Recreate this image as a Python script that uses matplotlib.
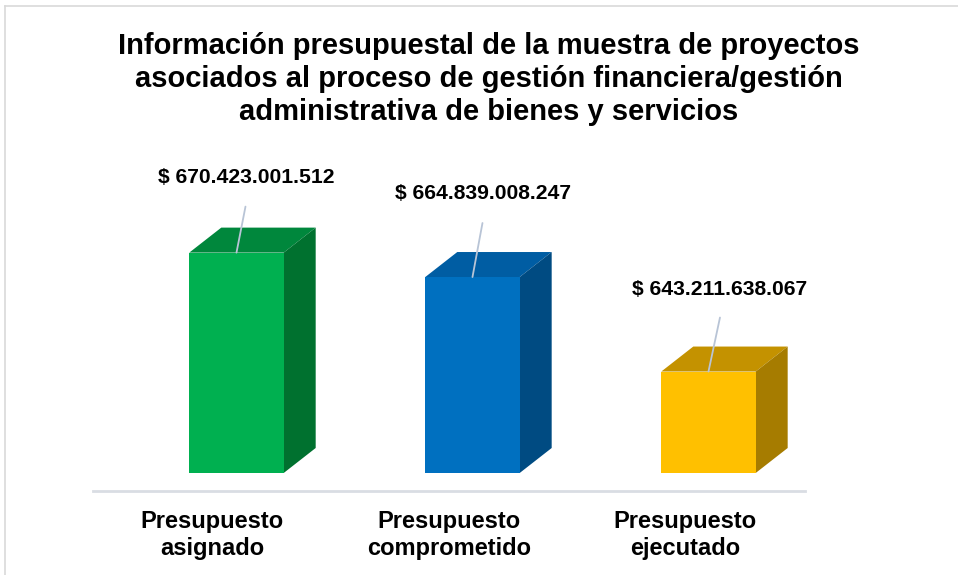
import matplotlib
matplotlib.use("Agg")
import matplotlib.pyplot as plt
from matplotlib.patches import Polygon
from matplotlib.lines import Line2D

# ---- data ----
categories = ["Presupuesto\nasignado", "Presupuesto\ncomprometido", "Presupuesto\nejecutado"]
values = [670423001512, 664839008247, 643211638067]
axis_min = 620e9
axis_max = 693.9e9
title = ("Información presupuestal de la muestra de proyectos\n"
         "asociados al proceso de gestión financiera/gestión\n"
         "administrativa de bienes y servicios")

# ---- styles ----
front_colors = ["#00B050", "#0070C0", "#FFC000"]
top_colors = ["#00873C", "#005DA3", "#C49200"]
side_colors = ["#00712F", "#004B82", "#A67C00"]
label_offsets = [(9.5, 75), (11, 84), (11.5, 82.5)]   # pixels (text centre)
line_ends = [(9, 46), (10, 54), (11.5, 54)]            # pixels (leader line top)
depth_px = (32, 25)

plt.rcParams['font.family'] = ['Liberation Sans', 'DejaVu Sans']

W, H = 958, 575
fig = plt.figure(figsize=(W / 100, H / 100), dpi=100)
fig.patch.set_facecolor("white")

# frame lines
fig.add_artist(Line2D([5 / W, 5 / W], [0, 1 - 6 / H], transform=fig.transFigure, color="#D9D9D9", lw=1.2))
fig.add_artist(Line2D([5 / W, 1], [1 - 6 / H, 1 - 6 / H], transform=fig.transFigure, color="#D9D9D9", lw=1.2))

ax_left, ax_right = 93, 805
ax_top, ax_bottom = 150, 473
ax = fig.add_axes([ax_left / W, 1 - ax_bottom / H, (ax_right - ax_left) / W, (ax_bottom - ax_top) / H])
ax.set_xlim(-0.608, 2.409)
ax.set_ylim(axis_min, axis_max)
ax.axis("off")

x = list(range(len(values)))
bar_w = 0.40
heights = [v - axis_min for v in values]
bars = ax.bar(x, heights, bottom=axis_min, width=bar_w, color=front_colors, zorder=3, linewidth=0)

fig.canvas.draw()
inv = ax.transData.inverted()
p0 = inv.transform((0, 0))
p1 = inv.transform(depth_px)
ddx, ddy = p1[0] - p0[0], p1[1] - p0[1]

for i, v in enumerate(values):
    xl, xr = x[i] - bar_w / 2, x[i] + bar_w / 2
    top = Polygon([(xl, v), (xr, v), (xr + ddx, v + ddy), (xl + ddx, v + ddy)],
                  closed=True, facecolor=top_colors[i], edgecolor="none", zorder=2)
    side = Polygon([(xr, axis_min), (xr + ddx, axis_min + ddy), (xr + ddx, v + ddy), (xr, v)],
                   closed=True, facecolor=side_colors[i], edgecolor="none", zorder=2)
    ax.add_patch(top)
    ax.add_patch(side)
    ax.annotate("", xy=(x[i], v), xytext=line_ends[i], textcoords="offset pixels",
                arrowprops=dict(arrowstyle="-", color="#B8C4D6", lw=1.3, shrinkA=0, shrinkB=0),
                zorder=4)
    label = "$ " + f"{v:,.0f}".replace(",", ".")
    ax.annotate(label, xy=(x[i], v), xytext=label_offsets[i], textcoords="offset pixels",
                ha="center", va="center", fontsize=15.2, fontweight="bold", color="black",
                annotation_clip=False)

# floor line
fig.add_artist(Line2D([ax_left / W, ax_right / W], [1 - 491 / H, 1 - 491 / H],
                      transform=fig.transFigure, color="#D9DDE3", lw=2))

# category labels
cat_x = [212, 449, 685]
for cx, c in zip(cat_x, categories):
    fig.text(cx / W, 1 - 535 / H, c, ha="center", va="center", fontsize=17,
             fontweight="bold", linespacing=1.27)

fig.text(489 / W, 1 - 79 / H, title, ha="center", va="center", fontsize=21,
         fontweight="bold", linespacing=1.25)

fig.savefig("out.png", dpi=100)
